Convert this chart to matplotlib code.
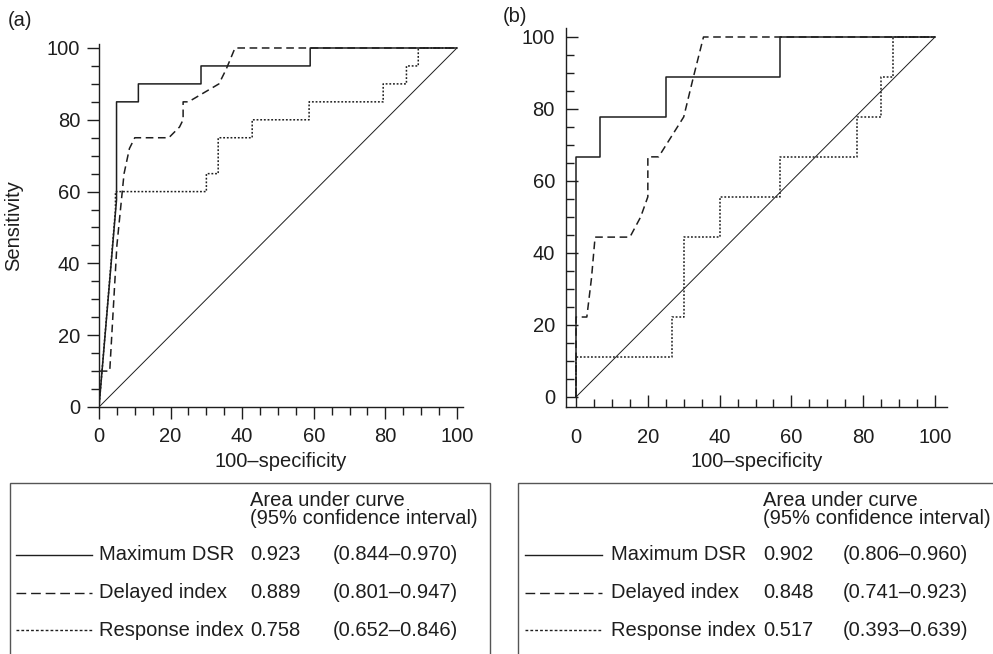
import numpy as np
import matplotlib
matplotlib.use('Agg')
import matplotlib.pyplot as plt
from matplotlib.lines import Line2D
from matplotlib.patches import Rectangle
from matplotlib.ticker import MultipleLocator

plt.rcParams['font.family'] = ['Liberation Sans', 'DejaVu Sans']

# ---- panel (a) ROC curves ----
a_dsr_x = [0, 4.9, 4.9, 11, 11, 28.5, 28.5, 59, 59, 100]
a_dsr_y = [0, 57.7, 85, 85, 90, 90, 95, 95, 100, 100]
a_del_x = [0, 0, 3, 5, 7, 8.5, 10, 19.5, 22.5, 23.5, 23.5, 25, 33.5, 35.5, 38, 100]
a_del_y = [0, 10, 10, 45, 65, 72, 75, 75, 78, 80, 85, 85, 90, 94, 100, 100]
a_resp_x = [0, 4.6, 4.6, 30, 30, 33.3, 33.3, 42.8, 42.8, 58.7, 58.7, 79.4, 79.4, 85.9, 85.9, 89.2, 89.2, 100]
a_resp_y = [0, 55, 60, 60, 65, 65, 75, 75, 80, 80, 85, 85, 90, 90, 95, 95, 100, 100]

# ---- panel (b) ROC curves ----
b_dsr_x = [0, 0, 6.7, 6.7, 25, 25, 56.7, 56.7, 100]
b_dsr_y = [0, 66.7, 66.7, 77.8, 77.8, 88.9, 88.9, 100, 100]
b_del_x = [0, 0, 3, 4.3, 5.3, 15, 18, 20, 20, 23, 30, 32.7, 35.5, 100]
b_del_y = [0, 22.2, 22.2, 33, 44.4, 44.4, 50, 55.6, 66.7, 66.7, 77.8, 88.9, 100, 100]
b_resp_x = [0, 0, 26.7, 26.7, 30, 30, 40, 40, 56.7, 56.7, 78.3, 78.3, 85, 85, 88.3, 88.3, 100]
b_resp_y = [0, 11.1, 11.1, 22.2, 22.2, 44.4, 44.4, 55.6, 55.6, 66.7, 66.7, 77.8, 77.8, 88.9, 88.9, 100, 100]

# ---- table text ----
names = ['Maximum DSR', 'Delayed index', 'Response index']
a_auc = ['0.923', '0.889', '0.758']
a_ci = ['(0.844–0.970)', '(0.801–0.947)', '(0.652–0.846)']
b_auc = ['0.902', '0.848', '0.517']
b_ci = ['(0.806–0.960)', '(0.741–0.923)', '(0.393–0.639)']

ink = '#1e1e1e'
fs = 14.5
styles = ['-', (0, (5, 3)), (0, (1.2, 1.2))]
key_styles = ['-', (0, (7, 3.5)), (0, (2, 1.5))]

fig = plt.figure(figsize=(9.93, 6.54), dpi=100)

ax_a = fig.add_axes([99 / 993, 1 - 407 / 654, 364 / 993, 362.6 / 654])
ax_b = fig.add_axes([566 / 993, 1 - 407 / 654, 380.5 / 993, 379 / 654])


def style_axes(ax, direction, xpad, ypad):
    for s in ['top', 'right']:
        ax.spines[s].set_visible(False)
    for s in ['left', 'bottom']:
        ax.spines[s].set_linewidth(1.0)
        ax.spines[s].set_color(ink)
    ax.xaxis.set_major_locator(MultipleLocator(20))
    ax.yaxis.set_major_locator(MultipleLocator(20))
    ax.xaxis.set_minor_locator(MultipleLocator(5))
    ax.yaxis.set_minor_locator(MultipleLocator(5))
    ax.tick_params(which='major', direction=direction, length=8.6, width=1.0,
                   color=ink, labelsize=fs, labelcolor=ink)
    ax.tick_params(which='minor', direction=direction, length=5.5, width=1.0, color=ink)
    ax.tick_params(axis='x', which='major', pad=xpad)
    ax.tick_params(axis='y', which='major', pad=ypad)
    ax.set_xlabel('100–specificity', fontsize=fs, color=ink, labelpad=4)


def draw_curves(ax, curves):
    ax.plot([0, 100], [0, 100], color=ink, lw=0.7)
    for (x, y), ls in zip(curves, styles):
        ax.plot(x, y, color=ink, lw=1.1, linestyle=ls)


draw_curves(ax_a, [(a_dsr_x, a_dsr_y), (a_del_x, a_del_y), (a_resp_x, a_resp_y)])
ax_a.set_xlim(0, 101.7)
ax_a.set_ylim(0, 101)
style_axes(ax_a, 'out', 6, 5)
ax_a.set_ylabel('Sensitivity', fontsize=fs, color=ink, labelpad=17)

draw_curves(ax_b, [(b_dsr_x, b_dsr_y), (b_del_x, b_del_y), (b_resp_x, b_resp_y)])
ax_b.set_xlim(-2.8, 103.2)
ax_b.set_ylim(-2.8, 102.5)
style_axes(ax_b, 'in', 15, 8)

fig.text(8 / 993, 1 - 20 / 654, '(a)', fontsize=fs, color=ink, va='center')
fig.text(503 / 993, 1 - 16 / 654, '(b)', fontsize=fs, color=ink, va='center')


def fx(px):
    return px / 993


def fy(px):
    return 1 - px / 654


def draw_table(x0, x1, line_x0, line_x1, name_x, auc_x, ci_x, auc, ci):
    fig.add_artist(Rectangle((fx(x0), -0.05), fx(x1) - fx(x0), fy(483) + 0.05,
                             transform=fig.transFigure, fill=False,
                             edgecolor='#555555', lw=1.0, clip_on=False))
    fig.text(fx(auc_x), fy(501), 'Area under curve', fontsize=fs, color=ink, va='center')
    fig.text(fx(auc_x), fy(519), '(95% confidence interval)', fontsize=fs, color=ink, va='center')
    rows = [555, 593, 630]
    for r, n, a, c, ls in zip(rows, names, auc, ci, key_styles):
        fig.add_artist(Line2D([fx(line_x0), fx(line_x1)], [fy(r), fy(r)],
                              transform=fig.transFigure, color=ink, lw=1.0, linestyle=ls))
        fig.text(fx(name_x), fy(r), n, fontsize=fs, color=ink, va='center')
        fig.text(fx(auc_x), fy(r), a, fontsize=fs, color=ink, va='center')
        fig.text(fx(ci_x), fy(r), c, fontsize=fs, color=ink, va='center')


draw_table(10, 490, 16, 92, 99, 250, 333, a_auc, a_ci)
draw_table(518, 1010, 525, 602, 611, 763, 843, b_auc, b_ci)

fig.savefig('out.png', dpi=100)
